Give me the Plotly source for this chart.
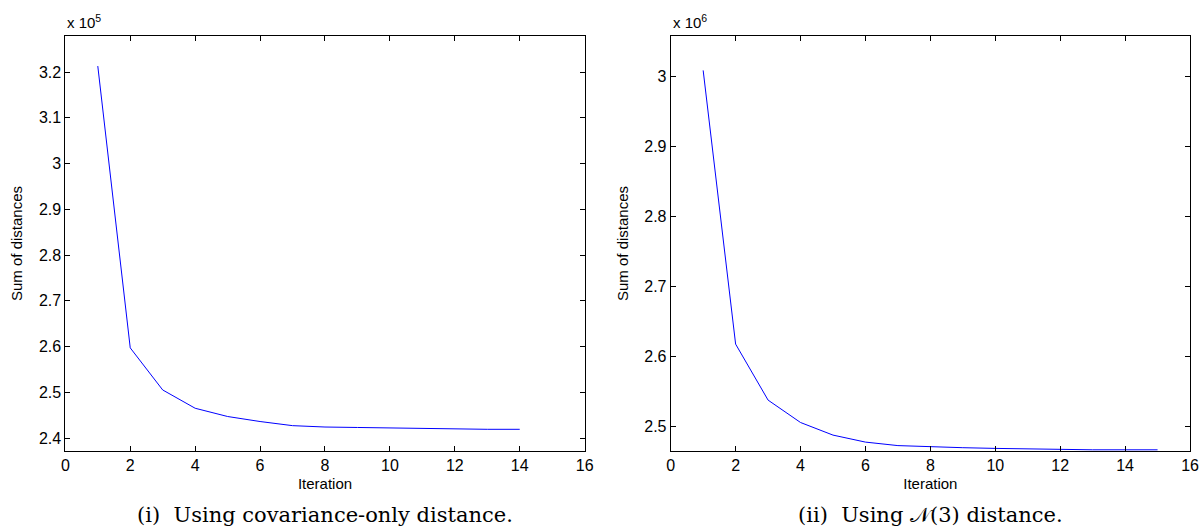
import plotly.graph_objects as go

iter_left = [1, 2, 3, 4, 5, 6, 7, 8, 9, 10, 11, 12, 13, 14]
sum_left = [3.213, 2.597, 2.505, 2.465, 2.447, 2.436, 2.427, 2.424, 2.423, 2.422, 2.420, 2.419, 2.419, 2.419]  # x 1e5

iter_right = [1, 2, 3, 4, 5, 6, 7, 8, 9, 10, 11, 12, 13, 14, 15]
sum_right = [3.008, 2.617, 2.537, 2.505, 2.487, 2.477, 2.472, 2.470, 2.469, 2.468, 2.467, 2.466, 2.466, 2.466, 2.466]  # x 1e6

x_ticks = [0, 2, 4, 6, 8, 10, 12, 14, 16]
left_yticks = [2.4, 2.5, 2.6, 2.7, 2.8, 2.9, 3.0, 3.1, 3.2]
left_ylabels = ["2.4", "2.5", "2.6", "2.7", "2.8", "2.9", "3", "3.1", "3.2"]
right_yticks = [2.5, 2.6, 2.7, 2.8, 2.9, 3.0]
right_ylabels = ["2.5", "2.6", "2.7", "2.8", "2.9", "3"]

W, H = 1201, 530
def px(x):
    return x / W
def py(y):
    return (H - y) / H

top, bottom = 36, 451
L1, R1 = 62, 587
L2, R2 = 674, 1199

fig = go.Figure()
fig.add_trace(go.Scatter(x=iter_left, y=sum_left, mode="lines",
                         line=dict(color="#0000ff", width=1), xaxis="x", yaxis="y", showlegend=False))
fig.add_trace(go.Scatter(x=iter_right, y=sum_right, mode="lines",
                         line=dict(color="#0000ff", width=1), xaxis="x2", yaxis="y2", showlegend=False))

sans = "Liberation Sans, Arial, sans-serif"
tickfont = dict(family=sans, size=16, color="black")
titlefont = dict(family=sans, size=15, color="black")
common_x = dict(range=[0, 16], tickvals=x_ticks, ticks="inside", ticklen=5, tickcolor="black",
                showline=True, linecolor="black", linewidth=1, mirror="ticks", showgrid=False,
                zeroline=False, tickfont=tickfont,
                title=dict(text="Iteration", font=titlefont, standoff=5))
common_y = dict(ticks="inside", ticklen=5, tickcolor="black",
                showline=True, linecolor="black", linewidth=1, mirror="ticks", showgrid=False,
                zeroline=False, tickfont=tickfont,
                title=dict(text="Sum of distances", font=titlefont, standoff=12))

fig.update_layout(
    width=W, height=H, margin=dict(l=0, r=0, t=0, b=0),
    paper_bgcolor="white", plot_bgcolor="white",
    xaxis=dict(domain=[px(L1), px(R1)], anchor="y", **common_x),
    yaxis=dict(domain=[py(bottom), py(top)], anchor="x",
               range=[2.4 - 13 / 457.5, 3.2 + (72 - top) / 457.5],
               tickvals=left_yticks, ticktext=left_ylabels, **common_y),
    xaxis2=dict(domain=[px(L2), px(R2)], anchor="y2", **common_x),
    yaxis2=dict(domain=[py(bottom), py(top)], anchor="x2",
                range=[2.5 - 25 / 700, 3.0 + (76 - top) / 700],
                tickvals=right_yticks, ticktext=right_ylabels, **common_y),
)

fig.add_annotation(text="x 10<sup>5</sup>", x=px(L1), y=py(top), xref="paper", yref="paper",
                   xanchor="left", yanchor="bottom", showarrow=False, yshift=3,
                   font=dict(family=sans, size=15, color="black"))
fig.add_annotation(text="x 10<sup>6</sup>", x=px(L2), y=py(top), xref="paper", yref="paper",
                   xanchor="left", yanchor="bottom", showarrow=False, yshift=3,
                   font=dict(family=sans, size=15, color="black"))

capfont = dict(family="DejaVu Serif, Liberation Serif, serif", size=21, color="black")
fig.add_annotation(text="(i)  Using covariance-only distance.", x=px((L1 + R1) / 2), y=py(515),
                   xref="paper", yref="paper", xanchor="center", yanchor="middle", showarrow=False, font=capfont)
fig.add_annotation(text="(ii)  Using 𝒩(3) distance.", x=px((L2 + R2) / 2), y=py(515),
                   xref="paper", yref="paper", xanchor="center", yanchor="middle", showarrow=False, font=capfont)

fig.write_html("out.html", config={"displayModeBar": False},
               post_script="document.body.style.margin='0';document.body.style.overflow='hidden';")
